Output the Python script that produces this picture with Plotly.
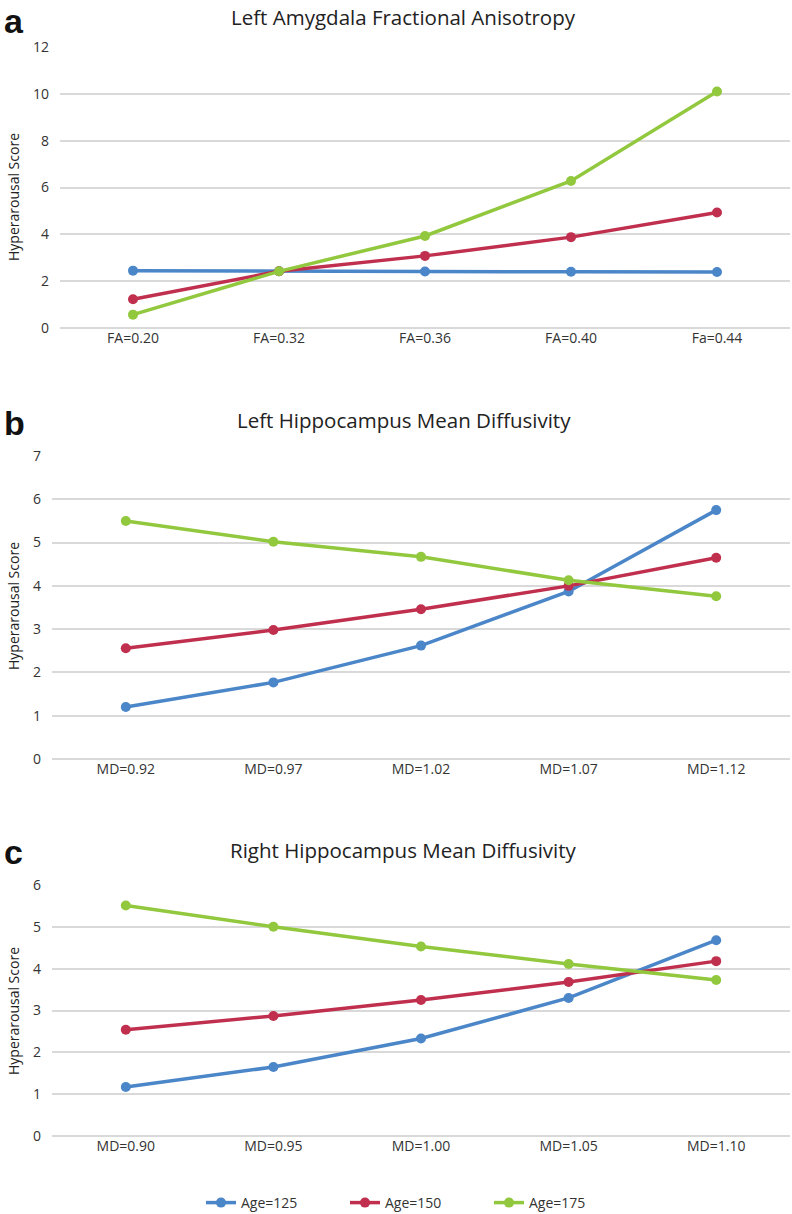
import plotly.graph_objects as go

# panel a - left amygdala FA
fa_labels = ["FA=0.20", "FA=0.32", "FA=0.36", "FA=0.40", "Fa=0.44"]
fa_age125 = [2.45, 2.42, 2.41, 2.40, 2.39]
fa_age150 = [1.23, 2.42, 3.08, 3.88, 4.93]
fa_age175 = [0.57, 2.42, 3.93, 6.28, 10.1]

# panel b - left hippocampus MD
lmd_labels = ["MD=0.92", "MD=0.97", "MD=1.02", "MD=1.07", "MD=1.12"]
lmd_age125 = [1.20, 1.77, 2.62, 3.87, 5.75]
lmd_age150 = [2.56, 2.98, 3.46, 4.00, 4.65]
lmd_age175 = [5.50, 5.02, 4.67, 4.13, 3.76]

# panel c - right hippocampus MD
rmd_labels = ["MD=0.90", "MD=0.95", "MD=1.00", "MD=1.05", "MD=1.10"]
rmd_age125 = [1.17, 1.65, 2.33, 3.30, 4.68]
rmd_age150 = [2.54, 2.87, 3.25, 3.68, 4.18]
rmd_age175 = [5.51, 5.00, 4.53, 4.11, 3.73]

series_names = ["Age=125", "Age=150", "Age=175"]
colors = ["#4A86C8", "#C0304E", "#92C83E"]

W, H = 792, 1214
FONT = "Open Sans"


def px_x(v):
    return v / W


def px_y(v):
    return 1 - v / H


# letter, title, categories, series, y range, dtick, plot x px, plot y px,
# title y px, letter y px (top of text box), y-title centre px
panels = [
    ("a", "Left Amygdala Fractional Anisotropy", fa_labels,
     [fa_age125, fa_age150, fa_age175], [0, 12], 2, (60, 790), (47, 328), 17, 0, 197),
    ("b", "Left Hippocampus Mean Diffusivity", lmd_labels,
     [lmd_age125, lmd_age150, lmd_age175], [0, 7], 1, (52, 790), (456, 759), 420, 402, 606),
    ("c", "Right Hippocampus Mean Diffusivity", rmd_labels,
     [rmd_age125, rmd_age150, rmd_age175], [0, 6], 1, (52, 790), (885, 1136), 850, 831, 1011),
]

fig = go.Figure()
annotations = []
layout_axes = {}

for i, (letter, title, cats, series, yr, dt, xpx, ypx, ty, ly, yt) in enumerate(panels):
    n = "" if i == 0 else str(i + 1)
    for j, vals in enumerate(series):
        fig.add_trace(go.Scatter(
            x=cats, y=vals, name=series_names[j], mode="lines+markers",
            line=dict(color=colors[j], width=3.5),
            marker=dict(color=colors[j], size=10),
            xaxis="x" + n, yaxis="y" + n,
            showlegend=(i == 2),
        ))
    layout_axes["xaxis" + n] = dict(
        domain=[px_x(xpx[0]), px_x(xpx[1])], anchor="y" + n,
        type="category", showgrid=False, zeroline=False, showline=False,
        ticks="", tickfont=dict(size=14, color="#333333", family=FONT),
        range=[-0.5, 4.5], fixedrange=True,
    )
    layout_axes["yaxis" + n] = dict(
        domain=[px_y(ypx[1]), px_y(ypx[0])], anchor="x" + n,
        range=yr, dtick=dt, showgrid=True, gridcolor="#D9D9D9", gridwidth=1.5,
        zeroline=True, zerolinecolor="#D9D9D9", zerolinewidth=1.5,
        showline=False, ticks="",
        tickfont=dict(size=14, color="#333333", family=FONT),
        ticklabelstandoff=10,
    )
    annotations.append(dict(
        text=title, x=px_x(404), y=px_y(ty), xref="paper", yref="paper",
        xanchor="center", yanchor="middle", showarrow=False,
        font=dict(size=20.5, color="#222222", family=FONT),
    ))
    annotations.append(dict(
        text="<b>" + letter + "</b>", x=px_x(2), y=px_y(ly), xref="paper", yref="paper",
        xanchor="left", yanchor="top", showarrow=False,
        font=dict(size=34, color="#111111", family="Liberation Sans"),
    ))
    annotations.append(dict(
        text="Hyperarousal Score", x=px_x(13), y=px_y(yt),
        xref="paper", yref="paper", xanchor="center", yanchor="middle",
        textangle=-90, showarrow=False,
        font=dict(size=14, color="#222222", family=FONT),
    ))

fig.update_layout(
    width=W, height=H,
    margin=dict(l=0, r=0, t=0, b=0, autoexpand=False),
    paper_bgcolor="white", plot_bgcolor="white",
    annotations=annotations,
    legend=dict(
        orientation="h", x=px_x(417), xanchor="center", y=px_y(1203), yanchor="middle",
        font=dict(size=14, color="#333333", family=FONT),
        entrywidth=99, itemwidth=30,
    ),
    **layout_axes,
)

fig.write_html("out.html", config={"displayModeBar": False},
               post_script="document.body.style.margin='0';")
